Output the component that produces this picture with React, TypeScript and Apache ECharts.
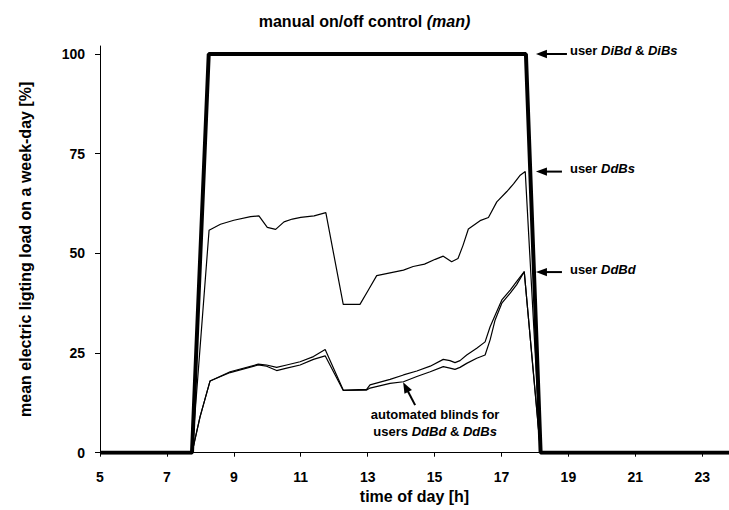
import React, { useEffect, useRef } from "react";
import * as echarts from "echarts";

const FONT = '"Liberation Sans", Arial, Helvetica, sans-serif';

// axis ticks
const hourTicks = [5, 7, 9, 11, 13, 15, 17, 19, 21, 23];
const loadTicks = [0, 25, 50, 75, 100];

// users DiBd & DiBs: lights switched on at arrival and left on all day
const userDiBdDiBs: [number, number][] = [
  [5, 0], [7.75, 0], [8.25, 100], [17.73, 100], [18.17, 0], [24, 0],
];

// user DdBs
const userDdBs: [number, number][] = [
  [5, 0], [7.75, 0], [8.26, 55.8], [8.6, 57.3], [9.0, 58.3], [9.5, 59.2],
  [9.75, 59.4], [10.0, 56.5], [10.25, 56.0], [10.5, 57.9], [10.75, 58.6],
  [11.0, 59.0], [11.4, 59.4], [11.75, 60.2], [12.27, 37.2], [12.77, 37.2],
  [13.0, 40.5], [13.27, 44.4], [13.67, 45.1], [14.07, 45.8], [14.36, 46.7],
  [14.7, 47.3], [15.02, 48.5], [15.26, 49.3], [15.51, 47.9], [15.7, 48.7],
  [15.85, 52.0], [16.01, 56.1], [16.36, 58.2], [16.61, 59.0], [16.86, 62.9],
  [17.16, 65.5], [17.36, 67.4], [17.56, 69.6], [17.71, 70.5], [18.17, 0], [24, 0],
];

// user DdBd
const userDdBd: [number, number][] = [
  [5, 0], [7.75, 0], [7.99, 9.0], [8.29, 18.0], [8.89, 20.3], [9.73, 22.2],
  [9.98, 22.0], [10.28, 21.4], [10.58, 22.0], [10.98, 22.8], [11.38, 24.1],
  [11.73, 25.9], [12.27, 15.7], [12.97, 15.9], [13.07, 17.0], [13.67, 18.4],
  [14.07, 19.5], [14.47, 20.5], [14.87, 21.7], [15.26, 23.4], [15.46, 23.1],
  [15.61, 22.6], [15.76, 23.1], [15.96, 24.5], [16.26, 26.2], [16.51, 27.8],
  [16.66, 31.6], [16.81, 34.5], [17.01, 38.3], [17.26, 40.8], [17.45, 42.9],
  [17.68, 45.4], [18.17, 0], [24, 0],
];

// automated blinds for users DdBd & DdBs
const automatedBlinds: [number, number][] = [
  [5, 0], [7.75, 0], [7.99, 9.0], [8.29, 18.0], [8.89, 20.1], [9.73, 22.0],
  [9.98, 21.7], [10.28, 20.6], [10.58, 21.2], [10.98, 22.0], [11.38, 23.4],
  [11.73, 24.3], [12.27, 15.6], [12.97, 15.7], [13.07, 16.2], [13.67, 17.4],
  [14.07, 17.8], [14.47, 19.1], [14.87, 20.3], [15.26, 21.6], [15.46, 21.2],
  [15.61, 20.9], [15.76, 21.4], [15.96, 22.4], [16.26, 23.7], [16.51, 24.5],
  [16.66, 28.3], [16.81, 33.3], [17.01, 37.5], [17.26, 40.0], [17.45, 42.1],
  [17.68, 45.4], [18.17, 0], [24, 0],
];

// annotation anchors (hour, load) and their texts
const sideNotes = [
  { at: [18.03, 100], text: "{n|user }{i|DiBd}{n| & }{i|DiBs}", shaft: 31 },
  { at: [18.03, 70.5], text: "{n|user }{i|DdBs}", shaft: 26 },
  { at: [18.03, 45.3], text: "{n|user }{i|DdBd}", shaft: 26 },
];
const blindsNote = {
  at: [14.06, 17.7],
  text: "{n|automated blinds for}\n{n|users }{i|DdBd}{n| & }{i|DdBs}",
};

const noteRich = {
  n: { fontFamily: FONT, fontSize: 13, fontWeight: "bold", color: "#000" },
  i: { fontFamily: FONT, fontSize: 13, fontWeight: "bold", fontStyle: "italic", color: "#000" },
};

function arrow(tip: number[], tail: number[], headLen = 11, headHalf = 4.2) {
  const dx = tip[0] - tail[0];
  const dy = tip[1] - tail[1];
  const len = Math.hypot(dx, dy);
  const ux = dx / len;
  const uy = dy / len;
  const bx = tip[0] - ux * headLen;
  const by = tip[1] - uy * headLen;
  const nx = -uy;
  const ny = ux;
  return [
    {
      type: "line",
      silent: true,
      shape: { x1: tail[0], y1: tail[1], x2: bx + ux, y2: by + uy },
      style: { stroke: "#000", lineWidth: 2 },
    },
    {
      type: "polygon",
      silent: true,
      shape: {
        points: [
          [tip[0], tip[1]],
          [bx + nx * headHalf, by + ny * headHalf],
          [bx - nx * headHalf, by - ny * headHalf],
        ],
      },
      style: { fill: "#000" },
    },
  ];
}

export default function App() {
  const ref = useRef<HTMLDivElement>(null);

  useEffect(() => {
    const chart = echarts.init(ref.current!, null, { renderer: "svg" });

    const thin = (name: string, data: [number, number][]) => ({
      type: "line",
      name,
      data,
      symbol: "none",
      silent: true,
      lineStyle: { color: "#000", width: 1.2 },
    });

    const axisText = { fontFamily: FONT, fontSize: 14, fontWeight: "bold", color: "#000" };

    chart.setOption({
      animation: false,
      backgroundColor: "#fff",
      title: {
        text: "{b|manual on/off control }{i|(man)}",
        left: "center",
        top: 8,
        textStyle: {
          rich: {
            b: { fontFamily: FONT, fontSize: 16, fontWeight: "bold", color: "#000" },
            i: { fontFamily: FONT, fontSize: 16, fontWeight: "bold", fontStyle: "italic", color: "#000" },
          },
        },
      },
      grid: { left: 100, right: 0, top: 46, bottom: 57.3 },
      xAxis: {
        type: "value",
        min: 5,
        max: 23.8,
        name: "time of day [h]",
        nameLocation: "middle",
        nameGap: 32,
        nameTextStyle: { ...axisText, fontSize: 16 },
        axisLine: { show: true, lineStyle: { color: "#000", width: 1 } },
        axisTick: { show: true, length: 4, customValues: hourTicks, lineStyle: { color: "#000" } },
        axisLabel: { ...axisText, margin: 17, customValues: hourTicks },
        splitLine: { show: false },
      },
      yAxis: {
        type: "value",
        min: 0,
        max: 102,
        name: "mean electric ligting load on a week-day [%]",
        nameLocation: "middle",
        nameGap: 67,
        nameTextStyle: { ...axisText, fontSize: 16 },
        axisLine: { show: true, lineStyle: { color: "#000", width: 1 } },
        axisTick: { show: true, length: 5, customValues: loadTicks, lineStyle: { color: "#000" } },
        axisLabel: { ...axisText, margin: 15, customValues: loadTicks },
        splitLine: { show: false },
      },
      series: [
        thin("user DdBs", userDdBs),
        thin("user DdBd", userDdBd),
        thin("automated blinds", automatedBlinds),
        {
          type: "line",
          name: "user DiBd & DiBs",
          data: userDiBdDiBs,
          symbol: "none",
          silent: true,
          lineStyle: { color: "#000", width: 4 },
        },
      ],
    });

    const px = (p: number[]) => chart.convertToPixel({ gridIndex: 0 }, p) as number[];
    const graphics: any[] = [];

    sideNotes.forEach((note) => {
      const tip = px(note.at);
      graphics.push(...arrow(tip, [tip[0] + note.shaft, tip[1]]));
      graphics.push({
        type: "text",
        silent: true,
        x: tip[0] + 34,
        y: tip[1] - 3,
        style: { text: note.text, rich: noteRich, verticalAlign: "middle", align: "left" },
      });
    });

    const btip = px(blindsNote.at);
    graphics.push(...arrow(btip, [btip[0] + 12, btip[1] + 23]));
    graphics.push({
      type: "text",
      silent: true,
      x: btip[0] + 32,
      y: btip[1] + 24,
      style: {
        text: blindsNote.text,
        rich: {
          n: { ...noteRich.n, lineHeight: 17 },
          i: { ...noteRich.i, lineHeight: 17 },
        },
        align: "center",
        verticalAlign: "top",
      },
    });

    chart.setOption({ graphic: graphics });

    return () => chart.dispose();
  }, []);

  return (
    <div
      ref={ref}
      style={{ position: "fixed", left: 0, top: 0, width: 729, height: 510 }}
    />
  );
}
